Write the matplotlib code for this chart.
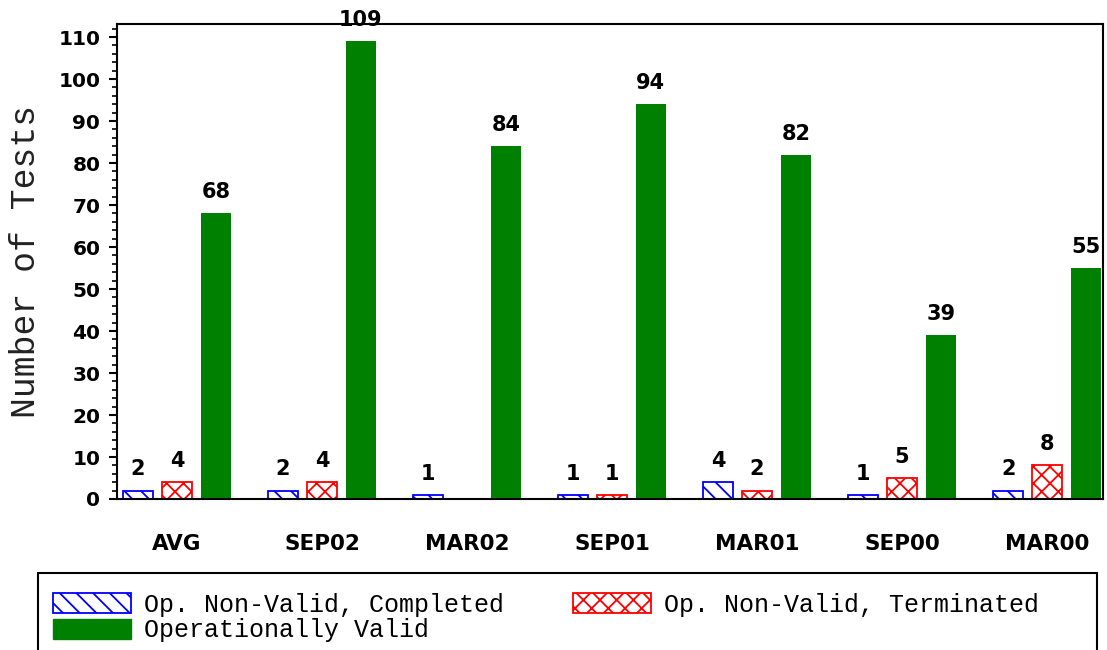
import matplotlib
matplotlib.use("Agg")
import matplotlib.pyplot as plt
import numpy as np
from matplotlib.patches import Rectangle, Patch
from matplotlib.ticker import MultipleLocator

categories = ["AVG", "SEP02", "MAR02", "SEP01", "MAR01", "SEP00", "MAR00"]
nonvalid_completed = [2, 2, 1, 1, 4, 1, 2]
nonvalid_terminated = [4, 4, 0, 1, 2, 5, 8]
operationally_valid = [68, 109, 84, 94, 82, 39, 55]
series_names = ["Op. Non-Valid, Completed", "Op. Non-Valid, Terminated", "Operationally Valid"]
ylabel = "Number of Tests"

plt.rcParams['hatch.linewidth'] = 1.3

fig = plt.figure(figsize=(11.07, 6.5), dpi=100)
ax = fig.add_axes([117/1107, 1-499/650, (1103-117)/1107, (499-24)/650])

x = np.arange(len(categories))
off = 0.268
w = 0.205

b1 = ax.bar(x - off, nonvalid_completed, w, facecolor="white", edgecolor="#0000FF",
            hatch="\\\\", linewidth=1.3)
b2 = ax.bar(x, nonvalid_terminated, w, facecolor="white", edgecolor="#FF0000",
            hatch="xx", linewidth=1.3)
b3 = ax.bar(x + off, operationally_valid, w, facecolor="#008000", edgecolor="#008000",
            linewidth=0)

for bars, vals in ((b1, nonvalid_completed), (b2, nonvalid_terminated), (b3, operationally_valid)):
    for rect, v in zip(bars, vals):
        if v == 0:
            continue
        ax.annotate(str(v), (rect.get_x() + rect.get_width()/2, v),
                    xytext=(0, 8), textcoords="offset points",
                    ha="center", va="bottom", family="DejaVu Sans", weight="bold",
                    fontsize=15, annotation_clip=False)

ax.set_xlim(-0.413, 6.385)
ax.set_ylim(0, 113.1)
ax.yaxis.set_major_locator(MultipleLocator(10))
ax.yaxis.set_minor_locator(MultipleLocator(2))
ax.tick_params(axis="y", which="major", length=6, width=1.5, pad=6)
ax.tick_params(axis="y", which="minor", length=3.6, width=1.2)
ax.tick_params(axis="x", which="both", length=0, pad=25)
ax.set_xticks(x)
ax.set_xticklabels(categories)
for lbl in ax.get_xticklabels():
    lbl.set_fontfamily("DejaVu Sans")
    lbl.set_fontweight("bold")
    lbl.set_fontsize(15.5)
for lbl in ax.get_yticklabels():
    lbl.set_fontfamily("DejaVu Sans")
    lbl.set_fontweight("bold")
    lbl.set_fontsize(14.5)

for s in ax.spines.values():
    s.set_linewidth(1.5)
    s.set_color("black")

ax.set_ylabel(ylabel, family="Liberation Mono", fontsize=25, color="#222222")
ax.yaxis.set_label_coords(-0.076, 0.5)

# legend frame
fig.patches.append(Rectangle((38/1107, -0.01), (1097-38)/1107, 0.01 + 1-573/650,
                             transform=fig.transFigure, facecolor="white",
                             edgecolor="black", linewidth=1.5, zorder=0))
handles = [Patch(facecolor="white", edgecolor="#0000FF", hatch="\\\\", linewidth=1.3),
           Patch(facecolor="#008000", edgecolor="#008000"),
           Patch(facecolor="white", edgecolor="#FF0000", hatch="xx", linewidth=1.3)]
labels = [series_names[0], series_names[2], series_names[1]]
leg = fig.legend(handles, labels, ncol=2, loc="upper left",
                 bbox_to_anchor=(53/1107, 1-593/650), frameon=False,
                 prop=dict(family="Liberation Mono", size=18),
                 handlelength=3.1, handleheight=0.85, handletextpad=0.55,
                 columnspacing=2.75, labelspacing=0.05, borderpad=0, borderaxespad=0)

fig.savefig("out.png", dpi=100)
